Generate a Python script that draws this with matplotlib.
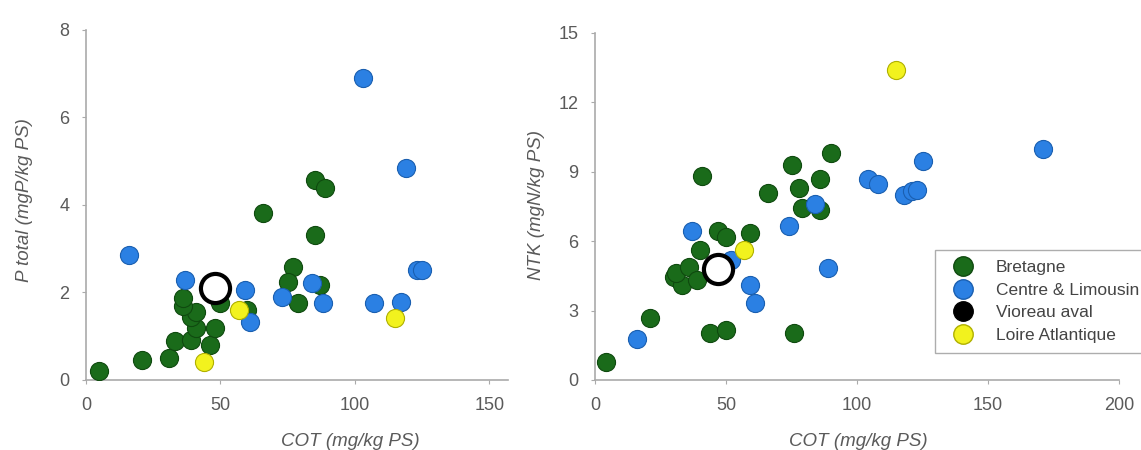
import matplotlib
matplotlib.use("Agg")
import matplotlib.pyplot as plt
from matplotlib.lines import Line2D

plt.rcParams["font.family"] = ["Liberation Sans", "DejaVu Sans"]

# données lues sur la figure
# gauche : P total vs COT
bret_cot_p = [5, 21, 31, 33, 39, 46, 48, 41, 39, 41, 36, 36, 50, 60, 66, 85, 89, 85, 77, 75, 79, 87]
bret_p = [0.2, 0.46, 0.5, 0.88, 0.91, 0.8, 1.18, 1.18, 1.45, 1.56, 1.68, 1.87, 1.75, 1.6, 3.81, 4.57, 4.38, 3.31, 2.59, 2.25, 1.75, 2.17]
cent_cot_p = [16, 37, 59, 61, 73, 84, 88, 103, 119, 107, 117, 123, 125]
cent_p = [2.86, 2.29, 2.06, 1.33, 1.9, 2.21, 1.75, 6.9, 4.84, 1.75, 1.79, 2.51, 2.51]
loire_cot_p = [44, 57, 115]
loire_p = [0.42, 1.6, 1.41]
vio_cot_p = [48]
vio_p = [2.1]

# droite : NTK vs COT
bret_cot_n = [4, 21, 44, 50, 76, 30, 33, 31, 36, 39, 40, 41, 47, 50, 59, 66, 75, 78, 79, 86, 86, 90]
bret_n = [0.79, 2.67, 2.02, 2.16, 2.02, 4.47, 4.11, 4.62, 4.9, 4.33, 5.63, 8.8, 6.42, 6.2, 6.35, 8.08, 9.3, 8.29, 7.43, 8.68, 7.36, 9.81]
cent_cot_n = [16, 37, 52, 59, 61, 74, 84, 89, 104, 108, 118, 121, 123, 125, 171]
cent_n = [1.76, 6.42, 5.2, 4.11, 3.32, 6.66, 7.62, 4.83, 8.68, 8.47, 8.0, 8.15, 8.22, 9.48, 10.0]
loire_cot_n = [57, 115]
loire_n = [5.63, 13.4]
vio_cot_n = [47]
vio_n = [4.79]

green = "#1a6b1a"
blue = "#2b80e3"
yellow = "#f2f21e"
grey = "#5a5a5a"

fig = plt.figure(figsize=(11.41, 4.5), dpi=100)
ax1 = fig.add_axes([0.0754, 0.1556, 0.3699, 0.7778])
ax2 = fig.add_axes([0.5215, 0.1556, 0.4593, 0.7711])


def style(ax):
    for s in ["top", "right"]:
        ax.spines[s].set_visible(False)
    for s in ["left", "bottom"]:
        ax.spines[s].set_color("#aaaaaa")
        ax.spines[s].set_linewidth(1.2)
    ax.tick_params(colors="#aaaaaa", labelcolor=grey, labelsize=13, length=3, pad=9)


def points(ax, x1, y1, x2, y2, x3, y3, xv, yv):
    ax.scatter(x1, y1, s=170, c=green, edgecolors="#0f4a0f", linewidths=0.8, zorder=3)
    ax.scatter(x2, y2, s=170, c=blue, edgecolors="#1a5fb0", linewidths=0.8, zorder=3)
    ax.scatter(x3, y3, s=170, c=yellow, edgecolors="#b0b000", linewidths=0.8, zorder=3)
    ax.scatter(xv, yv, s=440, c="white", edgecolors="black", linewidths=3, zorder=4)


lab = dict(fontsize=13.5, color=grey, style="italic")

points(ax1, bret_cot_p, bret_p, cent_cot_p, cent_p, loire_cot_p, loire_p, vio_cot_p, vio_p)
ax1.set_xlim(0, 157)
ax1.set_ylim(0, 8)
ax1.set_xticks([0, 50, 100, 150])
ax1.set_yticks([0, 2, 4, 6, 8])
style(ax1)
ax1.set_xlabel("COT (mg/kg PS)", **lab)
ax1.set_ylabel("P total (mgP/kg PS)", **lab)
ax1.xaxis.set_label_coords(0.626, -0.151)
ax1.yaxis.set_label_coords(-0.126, 0.514)

points(ax2, bret_cot_n, bret_n, cent_cot_n, cent_n, loire_cot_n, loire_n, vio_cot_n, vio_n)
ax2.set_xlim(0, 200)
ax2.set_ylim(0, 15)
ax2.set_xticks([0, 50, 100, 150, 200])
ax2.set_yticks([0, 3, 6, 9, 12, 15])
style(ax2)
ax2.set_xlabel("COT (mg/kg PS)", **lab)
ax2.set_ylabel("NTK (mgN/kg PS)", **lab)
ax2.xaxis.set_label_coords(0.502, -0.153)
ax2.yaxis.set_label_coords(-0.095, 0.504)

handles = [
    Line2D([], [], marker="o", ls="", ms=14, mfc=green, mec="#0f4a0f", label="Bretagne"),
    Line2D([], [], marker="o", ls="", ms=14, mfc=blue, mec="#1a5fb0", label="Centre & Limousin"),
    Line2D([], [], marker="o", ls="", ms=14, mfc="black", mec="black", label="Vioreau aval"),
    Line2D([], [], marker="o", ls="", ms=14, mfc=yellow, mec="#b0b000", label="Loire Atlantique"),
]
leg = ax2.legend(handles=handles, loc="upper left", bbox_to_anchor=(0.649, 0.375),
                 fontsize=12.5, frameon=True, fancybox=False, labelspacing=0.42,
                 handlelength=2.0, handletextpad=0.9, borderpad=0.6, borderaxespad=0,
                 labelcolor="#444444")
leg.get_frame().set_edgecolor("#999999")
leg.get_frame().set_linewidth(1.0)
leg.set_clip_on(False)

fig.savefig("out.png", dpi=100)
